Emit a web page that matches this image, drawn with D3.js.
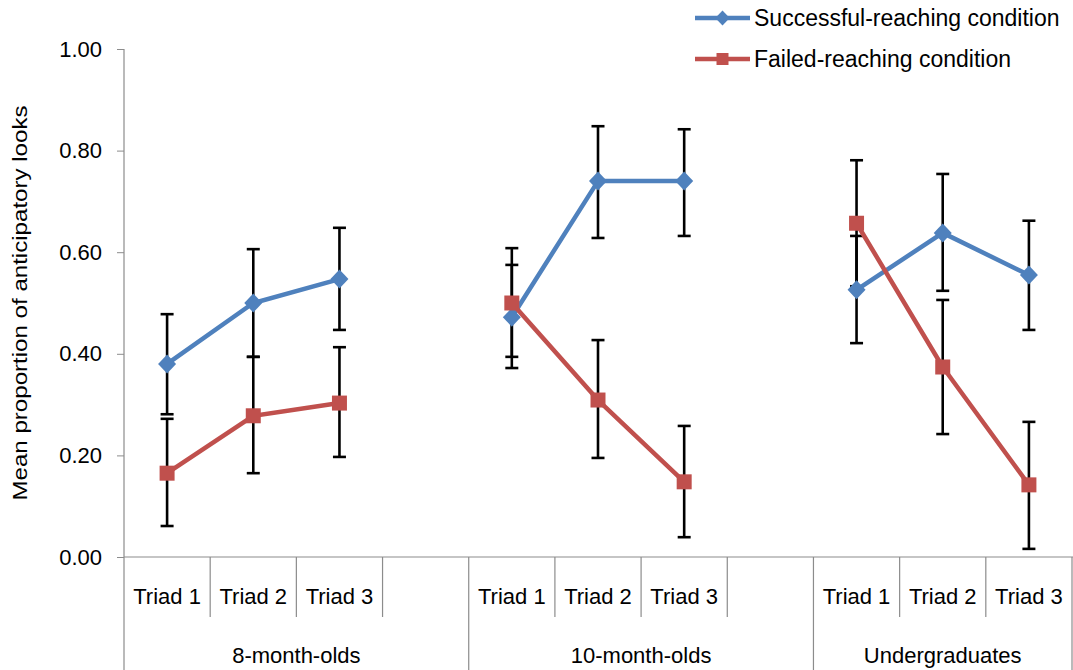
<!DOCTYPE html>
<html>
<head>
<meta charset="utf-8">
<script src="https://cdn.jsdelivr.net/npm/d3@7"></script>
<style>
  body { margin: 0; background: #fff; }
  text { font-family: "Liberation Sans", Arial, sans-serif; fill: #000; }
</style>
</head>
<body>
<div id="container"></div>
<script>
const WIDTH = 1073;
const HEIGHT = 670;
const LEFT = 124;
const RIGHT = 1072;
const TOP = 49;
const BOTTOM = 557;

const BLUE = "#4F81BD";
const RED = "#C0504D";
const AXIS_GREY = "#8c8c8c";

var GROUPS = ["8-month-olds", "10-month-olds", "Undergraduates"];
var TRIADS = ["Triad 1", "Triad 2", "Triad 3"];
var Y_TICKS = [0, 0.2, 0.4, 0.6, 0.8, 1.0];

// one value per group x triad, in order
var SUCCESS_MEAN = [0.380, 0.500, 0.547, 0.472, 0.740, 0.740, 0.526, 0.638, 0.555];
var SUCCESS_LOW  = [0.281, 0.394, 0.447, 0.372, 0.628, 0.632, 0.421, 0.524, 0.447];
var SUCCESS_HIGH = [0.478, 0.606, 0.648, 0.575, 0.848, 0.842, 0.632, 0.754, 0.662];

var FAILED_MEAN = [0.165, 0.278, 0.303, 0.500, 0.309, 0.148, 0.657, 0.374, 0.142];
var FAILED_LOW  = [0.061, 0.165, 0.197, 0.394, 0.195, 0.039, 0.533, 0.242, 0.016];
var FAILED_HIGH = [0.272, 0.394, 0.413, 0.608, 0.427, 0.258, 0.781, 0.506, 0.266];

var SERIES = [
    {name: "Successful-reaching condition", color: BLUE, shape: "diamond",
        mean: SUCCESS_MEAN, low: SUCCESS_LOW, high: SUCCESS_HIGH},
    {name: "Failed-reaching condition", color: RED, shape: "square",
        mean: FAILED_MEAN, low: FAILED_LOW, high: FAILED_HIGH}
];

// category slots: 3 triads per group, an empty slot between groups
var slots = [];
GROUPS.forEach(function (g, gi) {
    TRIADS.forEach(function (t, ti) {
        slots.push({group: gi, triad: ti, label: t, idx: gi * 3 + ti});
    });
    if (gi < GROUPS.length - 1) slots.push({group: gi, triad: null, label: "", idx: null});
});

var XScale = d3.scaleBand().domain(d3.range(slots.length)).range([LEFT, RIGHT]).padding(0);
var YScale = d3.scaleLinear().domain([0, 1]).range([BOTTOM, TOP]);

var xCenter = function (slotIndex) { return XScale(slotIndex) + XScale.bandwidth() / 2; };

var marker = function (shape) {
    if (shape === "diamond") return "M0,-9.5L9,0L0,9.5L-9,0Z";
    return "M-7.5,-7.5H7.5V7.5H-7.5Z";
};

var SVG = d3.select("#container").append("svg")
    .attr("width", WIDTH)
    .attr("height", HEIGHT);

// y axis
var YAxis = d3.axisLeft(YScale).tickValues(Y_TICKS).tickFormat(d3.format(".2f")).tickSize(7).tickPadding(15);
var yg = SVG.append("g").attr("transform", "translate(" + LEFT + ",0)").call(YAxis);
yg.select(".domain").remove();
yg.selectAll(".tick line").attr("stroke", AXIS_GREY);
yg.selectAll(".tick text").style("font-size", "22px").style("font-family", "Liberation Sans, Arial, sans-serif").attr("fill", "#000");
SVG.append("line").attr("x1", LEFT).attr("x2", LEFT).attr("y1", TOP).attr("y2", HEIGHT)
    .attr("stroke", AXIS_GREY).attr("stroke-width", 1.2);

SVG.append("text")
    .attr("transform", "translate(27," + ((TOP + BOTTOM) / 2) + ") rotate(-90)")
    .attr("text-anchor", "middle")
    .attr("textLength", 395)
    .attr("lengthAdjust", "spacingAndGlyphs")
    .style("font-size", "20px")
    .text("Mean proportion of anticipatory looks");

// x axis with multi-level category labels
SVG.append("line").attr("x1", LEFT).attr("x2", WIDTH).attr("y1", BOTTOM).attr("y2", BOTTOM)
    .attr("stroke", AXIS_GREY).attr("stroke-width", 1.2);

slots.forEach(function (s, i) {
    var right = XScale(i) + XScale.bandwidth();
    var groupEnd = (i === slots.length - 1) || slots[i + 1].group !== s.group;
    SVG.append("line")
        .attr("x1", right).attr("x2", right)
        .attr("y1", BOTTOM).attr("y2", groupEnd ? HEIGHT : 617)
        .attr("stroke", AXIS_GREY).attr("stroke-width", 1.2);
    if (s.label) {
        SVG.append("text")
            .attr("x", xCenter(i)).attr("y", 604)
            .attr("text-anchor", "middle")
            .style("font-size", "22px")
            .text(s.label);
    }
});

GROUPS.forEach(function (g, gi) {
    var members = slots.map(function (s, i) { return i; }).filter(function (i) { return slots[i].group === gi; });
    var x0 = XScale(members[0]);
    var x1 = XScale(members[members.length - 1]) + XScale.bandwidth();
    SVG.append("text")
        .attr("x", (x0 + x1) / 2).attr("y", 663)
        .attr("text-anchor", "middle")
        .style("font-size", "22px")
        .text(g);
});

// error bars
var CAP = 6.5;
SERIES.forEach(function (series) {
    slots.forEach(function (s, i) {
        if (s.idx === null) return;
        var x = xCenter(i);
        var g = SVG.append("g").attr("stroke", "#000").attr("stroke-width", 2.6);
        g.append("line").attr("x1", x).attr("x2", x)
            .attr("y1", YScale(series.low[s.idx])).attr("y2", YScale(series.high[s.idx]));
        [series.low[s.idx], series.high[s.idx]].forEach(function (v) {
            g.append("line").attr("x1", x - CAP).attr("x2", x + CAP)
                .attr("y1", YScale(v)).attr("y2", YScale(v));
        });
    });
});

// lines and markers, broken at the empty slots
var line = d3.line()
    .defined(function (d) { return d.v !== null; })
    .x(function (d) { return xCenter(d.i); })
    .y(function (d) { return YScale(d.v); });

SERIES.forEach(function (series) {
    var pts = slots.map(function (s, i) { return {i: i, v: s.idx === null ? null : series.mean[s.idx]}; });
    SVG.append("path").datum(pts)
        .attr("d", line)
        .attr("fill", "none")
        .attr("stroke", series.color)
        .attr("stroke-width", 4.5)
        .attr("stroke-linejoin", "round");
    SVG.selectAll(null).data(pts.filter(function (d) { return d.v !== null; }))
        .enter().append("path")
        .attr("d", marker(series.shape))
        .attr("transform", function (d) { return "translate(" + xCenter(d.i) + "," + YScale(d.v) + ")"; })
        .attr("fill", series.color);
});

// legend
SERIES.forEach(function (series, k) {
    var y = 18 + k * 41;
    SVG.append("line").attr("x1", 695).attr("x2", 750).attr("y1", y).attr("y2", y)
        .attr("stroke", series.color).attr("stroke-width", 4.5);
    SVG.append("path").attr("d", marker(series.shape))
        .attr("transform", "translate(722.5," + y + ") scale(0.8)")
        .attr("fill", series.color);
    SVG.append("text").attr("x", 754).attr("y", y + 8)
        .style("font-size", "23px")
        .text(series.name);
});
</script>
</body>
</html>
